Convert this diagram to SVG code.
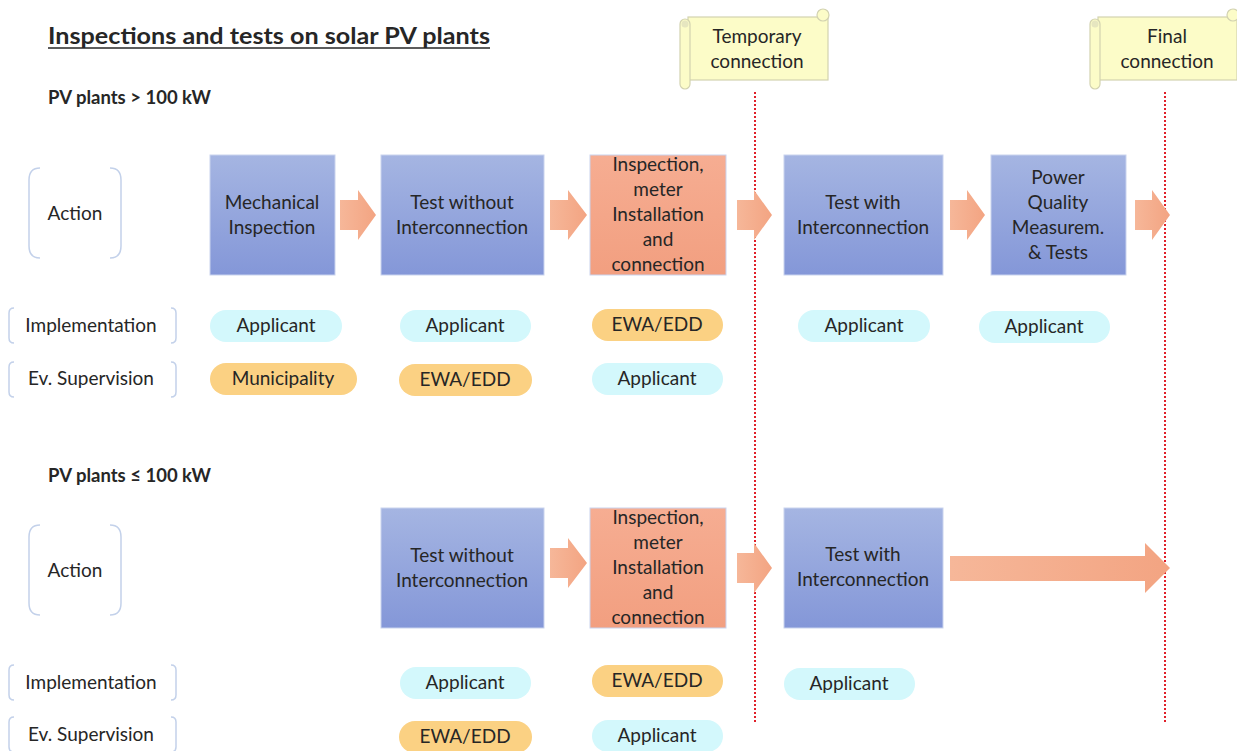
<svg xmlns="http://www.w3.org/2000/svg" width="1237" height="751" viewBox="0 0 1237 751">
<defs>
<linearGradient id="gBlue" x1="0" y1="0" x2="0" y2="1"><stop offset="0" stop-color="#a5b5e2"/><stop offset="1" stop-color="#8497d8"/></linearGradient>
<linearGradient id="gOr" x1="0" y1="0" x2="0" y2="1"><stop offset="0" stop-color="#f6ad92"/><stop offset="1" stop-color="#f29f80"/></linearGradient>
<linearGradient id="gArr" x1="0" y1="0" x2="1" y2="0"><stop offset="0" stop-color="#f6b799"/><stop offset="1" stop-color="#f3a482"/></linearGradient>
<style>
text{font-family:Lato,"Open Sans","Liberation Sans",sans-serif;fill:#262626;}
.t{font-size:19px;text-anchor:middle;}
.box{stroke:#c9d3ee;stroke-width:1;}
.bl{fill:url(#gBlue);}
.or{fill:url(#gOr);}
.arr{fill:url(#gArr);}
.pc{fill:#d3f8fc;}
.po{fill:#fbd183;}
.br{fill:none;stroke:#c3d1ea;stroke-width:1.5;}
.red{stroke:#e0202a;stroke-width:2;stroke-dasharray:2 2;fill:none;}
.scr{fill:#fcfcc8;stroke:#d2d2b0;stroke-width:1.2;}
.h{font-weight:bold;font-size:18.5px;}
</style>
</defs>

<g id="title">
<text x="48" y="44" font-size="23" font-weight="bold" textLength="442" lengthAdjust="spacingAndGlyphs">Inspections and tests on solar PV plants</text>
<line x1="48" y1="48" x2="490" y2="48" stroke="#262626" stroke-width="1.5"/>
</g>
<g id="h1"><text class="h" x="48" y="104">PV plants &gt; 100 kW</text></g>
<g id="h2"><text class="h" x="48" y="482">PV plants ≤ 100 kW</text></g>

<g id="scroll-temp">
<rect class="scr" x="688" y="17" width="140" height="63"/>
<circle class="scr" cx="823" cy="15" r="6"/>
<rect class="scr" x="680" y="19" width="10" height="70" rx="5"/>
<circle cx="685" cy="24" r="3.5" fill="#e6e6c0"/>
<text class="t" x="757" y="43">Temporary</text>
<text class="t" x="757" y="68">connection</text>
</g>
<g id="scroll-final">
<rect class="scr" x="1098" y="17" width="139" height="63"/>
<circle class="scr" cx="1233" cy="15" r="6"/>
<rect class="scr" x="1090" y="19" width="10" height="70" rx="5"/>
<circle cx="1095" cy="24" r="3.5" fill="#e6e6c0"/>
<text class="t" x="1167" y="43">Final</text>
<text class="t" x="1167" y="68">connection</text>
</g>

<g id="labels">
<path class="br" d="M40 168 Q29 168 29 180 V246 Q29 258 40 258 M110 168 Q121 168 121 180 V246 Q121 258 110 258"/>
<text class="t" x="75" y="220">Action</text>
<path class="br" d="M14 308 Q9 308 9 313 V338 Q9 343 14 343 M171 308 Q176 308 176 313 V338 Q176 343 171 343"/>
<text class="t" x="91" y="332">Implementation</text>
<path class="br" d="M14 362 Q9 362 9 367 V392 Q9 397 14 397 M171 362 Q176 362 176 367 V392 Q176 397 171 397"/>
<text class="t" x="91" y="385">Ev. Supervision</text>

<path class="br" d="M40 525 Q29 525 29 537 V603 Q29 615 40 615 M110 525 Q121 525 121 537 V603 Q121 615 110 615"/>
<text class="t" x="75" y="577">Action</text>
<path class="br" d="M14 665 Q9 665 9 670 V695 Q9 700 14 700 M171 665 Q176 665 176 670 V695 Q176 700 171 700"/>
<text class="t" x="91" y="689">Implementation</text>
<path class="br" d="M14 717 Q9 717 9 722 V747 Q9 752 14 752 M171 717 Q176 717 176 722 V747 Q176 752 171 752"/>
<text class="t" x="91" y="741">Ev. Supervision</text>
</g>

<g id="connectors">
<line class="red" x1="755" y1="92" x2="755" y2="722"/>
<line class="red" x1="1165" y1="92" x2="1165" y2="722"/>
<path class="arr" d="M340 200 H358 V190 L376 215 L358 240 V230 H340 Z"/>
<path class="arr" d="M550 200 H568 V190 L587 215 L568 240 V230 H550 Z"/>
<path class="arr" d="M737 200 H754 V190 L772 215 L754 240 V230 H737 Z"/>
<path class="arr" d="M950 200 H967 V190 L985 215 L967 240 V230 H950 Z"/>
<path class="arr" d="M1135 200 H1152 V190 L1170 215 L1152 240 V230 H1135 Z"/>
<path class="arr" d="M550 548 H568 V538 L587 563 L568 588 V578 H550 Z"/>
<path class="arr" d="M737 553 H754 V543 L772 568 L754 593 V583 H737 Z"/>
<path class="arr" d="M950 556 H1145 V543 L1170 568 L1145 593 V581 H950 Z"/>
</g>

<g id="n-mech"><rect class="box bl" x="210" y="155" width="125" height="120"/>
<text class="t" x="272" y="209">Mechanical</text><text class="t" x="272" y="234">Inspection</text></g>
<g id="n-test-wo-1"><rect class="box bl" x="381" y="155" width="163" height="120"/>
<text class="t" x="462" y="209">Test without</text><text class="t" x="462" y="234">Interconnection</text></g>
<g id="n-insp-1"><rect class="box or" x="590" y="155" width="136" height="120"/>
<text class="t" x="658" y="171">Inspection,</text><text class="t" x="658" y="196">meter</text><text class="t" x="658" y="221">Installation</text><text class="t" x="658" y="246">and</text><text class="t" x="658" y="271">connection</text></g>
<g id="n-test-w-1"><rect class="box bl" x="784" y="155" width="159" height="120"/>
<text class="t" x="863" y="209">Test with</text><text class="t" x="863" y="234">Interconnection</text></g>
<g id="n-pq"><rect class="box bl" x="991" y="155" width="135" height="120"/>
<text class="t" x="1058" y="184">Power</text><text class="t" x="1058" y="209">Quality</text><text class="t" x="1058" y="234">Measurem.</text><text class="t" x="1058" y="259">&amp; Tests</text></g>

<g id="n-test-wo-2"><rect class="box bl" x="381" y="508" width="163" height="120"/>
<text class="t" x="462" y="562">Test without</text><text class="t" x="462" y="587">Interconnection</text></g>
<g id="n-insp-2"><rect class="box or" x="590" y="508" width="136" height="120"/>
<text class="t" x="658" y="524">Inspection,</text><text class="t" x="658" y="549">meter</text><text class="t" x="658" y="574">Installation</text><text class="t" x="658" y="599">and</text><text class="t" x="658" y="624">connection</text></g>
<g id="n-test-w-2"><rect class="box bl" x="784" y="508" width="159" height="120"/>
<text class="t" x="863" y="561">Test with</text><text class="t" x="863" y="586">Interconnection</text></g>

<g id="pills-1">
<rect class="pc" x="210" y="310" width="132" height="32" rx="16"/><text class="t" x="276" y="332">Applicant</text>
<rect class="pc" x="400" y="310" width="131" height="32" rx="16"/><text class="t" x="465" y="332">Applicant</text>
<rect class="po" x="592" y="309" width="131" height="32" rx="16"/><text class="t" x="657" y="331">EWA/EDD</text>
<rect class="pc" x="798" y="310" width="132" height="32" rx="16"/><text class="t" x="864" y="332">Applicant</text>
<rect class="pc" x="979" y="311" width="131" height="32" rx="16"/><text class="t" x="1044" y="333">Applicant</text>
<rect class="po" x="210" y="363" width="147" height="32" rx="16"/><text class="t" x="283" y="385">Municipality</text>
<rect class="po" x="399" y="364" width="133" height="32" rx="16"/><text class="t" x="465" y="386">EWA/EDD</text>
<rect class="pc" x="592" y="363" width="131" height="32" rx="16"/><text class="t" x="657" y="385">Applicant</text>
</g>
<g id="pills-2">
<rect class="pc" x="400" y="667" width="131" height="32" rx="16"/><text class="t" x="465" y="689">Applicant</text>
<rect class="po" x="592" y="665" width="131" height="32" rx="16"/><text class="t" x="657" y="687">EWA/EDD</text>
<rect class="pc" x="784" y="668" width="131" height="32" rx="16"/><text class="t" x="849" y="690">Applicant</text>
<rect class="po" x="399" y="721" width="133" height="32" rx="16"/><text class="t" x="465" y="743">EWA/EDD</text>
<rect class="pc" x="592" y="720" width="131" height="32" rx="16"/><text class="t" x="657" y="742">Applicant</text>
</g>
</svg>
